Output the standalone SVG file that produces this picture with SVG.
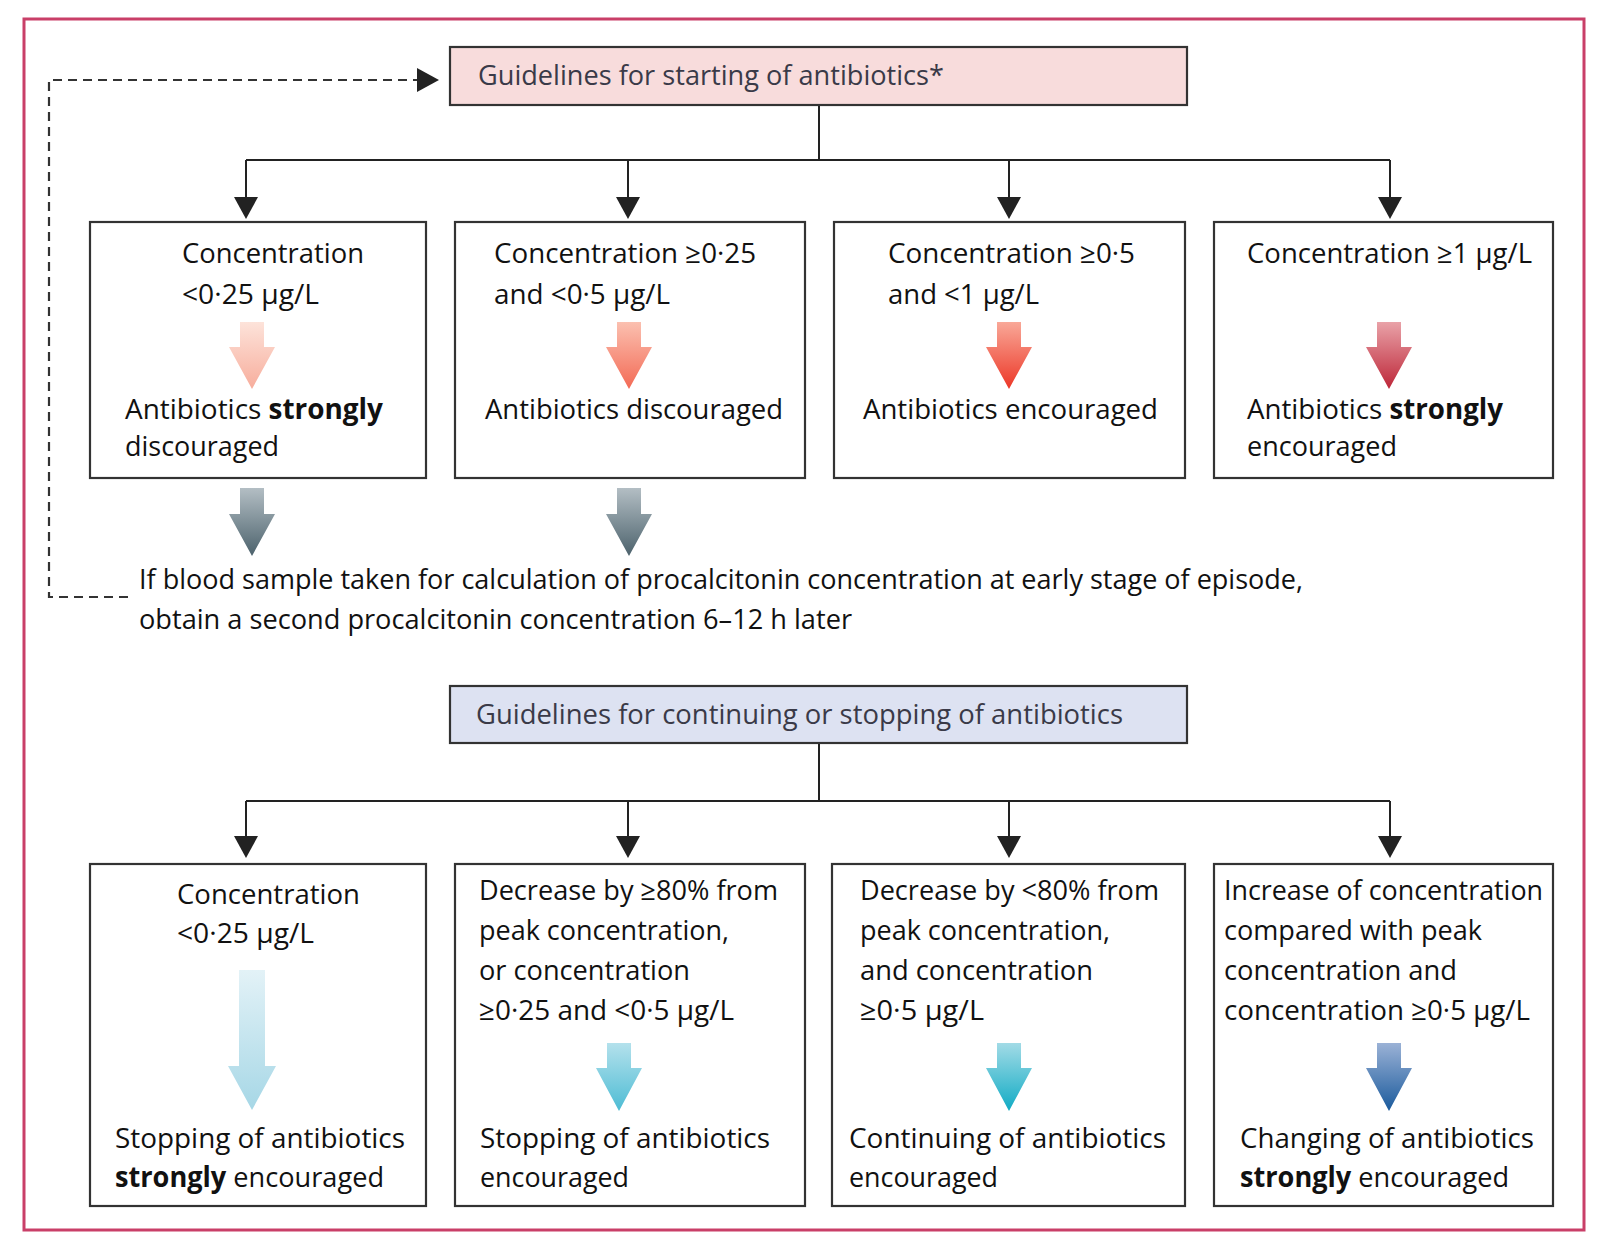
<svg xmlns="http://www.w3.org/2000/svg" width="1600" height="1250" viewBox="0 0 1600 1250">
<defs>
<style>
.t{font-family:"Open Sans","Liberation Sans",Arial,sans-serif;font-size:28px;fill:#111;}
.h{font-family:"Open Sans","Liberation Sans",Arial,sans-serif;font-size:27px;fill:#3a3a48;}
.b{font-weight:700;}
.box{fill:#fff;stroke:#333;stroke-width:2.2;}
.con{fill:none;stroke:#222;stroke-width:2;}
.dash{fill:none;stroke:#333;stroke-width:2.2;stroke-dasharray:9 6;}
</style>
<marker id="ah" viewBox="0 0 22 24" refX="0" refY="12" markerWidth="22" markerHeight="24" markerUnits="userSpaceOnUse" orient="auto">
<path d="M0,0 L22,12 L0,24 Z" fill="#222"/>
</marker>
<linearGradient id="g1" x1="0" y1="0" x2="0" y2="1"><stop offset="0" stop-color="#fde3da"/><stop offset="1" stop-color="#f7ad9c"/></linearGradient>
<linearGradient id="g2" x1="0" y1="0" x2="0" y2="1"><stop offset="0" stop-color="#fbc0b0"/><stop offset="1" stop-color="#f36a55"/></linearGradient>
<linearGradient id="g3" x1="0" y1="0" x2="0" y2="1"><stop offset="0" stop-color="#f9a898"/><stop offset="1" stop-color="#ec3727"/></linearGradient>
<linearGradient id="g4" x1="0" y1="0" x2="0" y2="1"><stop offset="0" stop-color="#e9a2a8"/><stop offset="1" stop-color="#bd2638"/></linearGradient>
<linearGradient id="gg" x1="0" y1="0" x2="0" y2="1"><stop offset="0" stop-color="#b3bec4"/><stop offset="1" stop-color="#4c626c"/></linearGradient>
<linearGradient id="b1" x1="0" y1="0" x2="0" y2="1"><stop offset="0" stop-color="#e3f2f7"/><stop offset="1" stop-color="#a6d7e6"/></linearGradient>
<linearGradient id="b2" x1="0" y1="0" x2="0" y2="1"><stop offset="0" stop-color="#b4e1ec"/><stop offset="1" stop-color="#4dbcd4"/></linearGradient>
<linearGradient id="b3" x1="0" y1="0" x2="0" y2="1"><stop offset="0" stop-color="#a2dbe6"/><stop offset="1" stop-color="#10abc4"/></linearGradient>
<linearGradient id="b4" x1="0" y1="0" x2="0" y2="1"><stop offset="0" stop-color="#9bb2d6"/><stop offset="1" stop-color="#1a5a9c"/></linearGradient>
</defs>
<rect width="1600" height="1250" fill="#fff"/>
<rect x="24" y="19" width="1560" height="1211" fill="none" stroke="#c93f68" stroke-width="3"/>

<g id="connectors">
<path class="dash" d="M128,597 H49 V80 H417" marker-end="url(#ah)"/>
<path class="con" d="M819,105 V160"/>
<path class="con" d="M246,160 H1390"/>
<path class="con" d="M246,160 V197" marker-end="url(#ah)"/>
<path class="con" d="M628,160 V197" marker-end="url(#ah)"/>
<path class="con" d="M1009,160 V197" marker-end="url(#ah)"/>
<path class="con" d="M1390,160 V197" marker-end="url(#ah)"/>
<path class="con" d="M819,743 V801"/>
<path class="con" d="M246,801 H1390"/>
<path class="con" d="M246,801 V836" marker-end="url(#ah)"/>
<path class="con" d="M628,801 V836" marker-end="url(#ah)"/>
<path class="con" d="M1009,801 V836" marker-end="url(#ah)"/>
<path class="con" d="M1390,801 V836" marker-end="url(#ah)"/>
<path d="M240,488 H264 V514 H275 L252,556 L229,514 H240 Z" fill="url(#gg)"/>
<path d="M617,488 H641 V514 H652 L629,556 L606,514 H617 Z" fill="url(#gg)"/>
</g>

<g id="start-header">
<rect x="450" y="47" width="737" height="58" fill="#f8dcdc" stroke="#333" stroke-width="2.2"/>
<text class="h" x="478" y="85" textLength="466" lengthAdjust="spacingAndGlyphs">Guidelines for starting of antibiotics*</text>
</g>

<g id="start-1">
<rect class="box" x="90" y="222" width="336" height="256"/>
<text class="t" x="182" y="263" textLength="182" lengthAdjust="spacingAndGlyphs">Concentration</text>
<text class="t" x="182" y="304" textLength="137" lengthAdjust="spacingAndGlyphs">&lt;0·25 µg/L</text>
<path d="M240,322 H264 V347 H275 L252,389 L229,347 H240 Z" fill="url(#g1)"/>
<text class="t" x="125" y="419" textLength="258" lengthAdjust="spacingAndGlyphs">Antibiotics <tspan class="b">strongly</tspan></text>
<text class="t" x="125" y="456" textLength="154" lengthAdjust="spacingAndGlyphs">discouraged</text>
</g>

<g id="start-2">
<rect class="box" x="455" y="222" width="350" height="256"/>
<text class="t" x="494" y="263" textLength="262" lengthAdjust="spacingAndGlyphs">Concentration ≥0·25</text>
<text class="t" x="494" y="304" textLength="176" lengthAdjust="spacingAndGlyphs">and &lt;0·5 µg/L</text>
<path d="M617,322 H641 V347 H652 L629,389 L606,347 H617 Z" fill="url(#g2)"/>
<text class="t" x="485" y="419" textLength="298" lengthAdjust="spacingAndGlyphs">Antibiotics discouraged</text>
</g>

<g id="start-3">
<rect class="box" x="834" y="222" width="351" height="256"/>
<text class="t" x="888" y="263" textLength="247" lengthAdjust="spacingAndGlyphs">Concentration ≥0·5</text>
<text class="t" x="888" y="304" textLength="151" lengthAdjust="spacingAndGlyphs">and &lt;1 µg/L</text>
<path d="M997,322 H1021 V347 H1032 L1009,389 L986,347 H997 Z" fill="url(#g3)"/>
<text class="t" x="863" y="419" textLength="295" lengthAdjust="spacingAndGlyphs">Antibiotics encouraged</text>
</g>

<g id="start-4">
<rect class="box" x="1214" y="222" width="339" height="256"/>
<text class="t" x="1247" y="263" textLength="285" lengthAdjust="spacingAndGlyphs">Concentration ≥1 µg/L</text>
<path d="M1377,322 H1401 V347 H1412 L1389,389 L1366,347 H1377 Z" fill="url(#g4)"/>
<text class="t" x="1247" y="419" textLength="256" lengthAdjust="spacingAndGlyphs">Antibiotics <tspan class="b">strongly</tspan></text>
<text class="t" x="1247" y="456" textLength="150" lengthAdjust="spacingAndGlyphs">encouraged</text>
</g>

<g id="second-sample-note">
<text class="t" x="139" y="589" textLength="1164" lengthAdjust="spacingAndGlyphs">If blood sample taken for calculation of procalcitonin concentration at early stage of episode,</text>
<text class="t" x="139" y="629" textLength="713" lengthAdjust="spacingAndGlyphs">obtain a second procalcitonin concentration 6–12 h later</text>
</g>

<g id="continue-header">
<rect x="450" y="686" width="737" height="57" fill="#dde2f2" stroke="#333" stroke-width="2.2"/>
<text class="h" x="476" y="724" textLength="647" lengthAdjust="spacingAndGlyphs">Guidelines for continuing or stopping of antibiotics</text>
</g>

<g id="continue-1">
<rect class="box" x="90" y="864" width="336" height="342"/>
<text class="t" x="177" y="904" textLength="183" lengthAdjust="spacingAndGlyphs">Concentration</text>
<text class="t" x="177" y="943" textLength="137" lengthAdjust="spacingAndGlyphs">&lt;0·25 µg/L</text>
<path d="M239,970 H265 V1066 H276 L252,1110 L228,1066 H239 Z" fill="url(#b1)"/>
<text class="t" x="115" y="1148" textLength="290" lengthAdjust="spacingAndGlyphs">Stopping of antibiotics</text>
<text class="t" x="115" y="1187" textLength="269" lengthAdjust="spacingAndGlyphs"><tspan class="b">strongly</tspan> encouraged</text>
</g>

<g id="continue-2">
<rect class="box" x="455" y="864" width="350" height="342"/>
<text class="t" x="479" y="900" textLength="299" lengthAdjust="spacingAndGlyphs">Decrease by ≥80% from</text>
<text class="t" x="479" y="940" textLength="250" lengthAdjust="spacingAndGlyphs">peak concentration,</text>
<text class="t" x="479" y="980" textLength="211" lengthAdjust="spacingAndGlyphs">or concentration</text>
<text class="t" x="479" y="1020" textLength="255" lengthAdjust="spacingAndGlyphs">≥0·25 and &lt;0·5 µg/L</text>
<path d="M607,1043 H631 V1068 H642 L619,1111 L596,1068 H607 Z" fill="url(#b2)"/>
<text class="t" x="480" y="1148" textLength="290" lengthAdjust="spacingAndGlyphs">Stopping of antibiotics</text>
<text class="t" x="480" y="1187" textLength="149" lengthAdjust="spacingAndGlyphs">encouraged</text>
</g>

<g id="continue-3">
<rect class="box" x="832" y="864" width="353" height="342"/>
<text class="t" x="860" y="900" textLength="299" lengthAdjust="spacingAndGlyphs">Decrease by &lt;80% from</text>
<text class="t" x="860" y="940" textLength="250" lengthAdjust="spacingAndGlyphs">peak concentration,</text>
<text class="t" x="860" y="980" textLength="233" lengthAdjust="spacingAndGlyphs">and concentration</text>
<text class="t" x="860" y="1020" textLength="124" lengthAdjust="spacingAndGlyphs">≥0·5 µg/L</text>
<path d="M997,1043 H1021 V1068 H1032 L1009,1111 L986,1068 H997 Z" fill="url(#b3)"/>
<text class="t" x="849" y="1148" textLength="317" lengthAdjust="spacingAndGlyphs">Continuing of antibiotics</text>
<text class="t" x="849" y="1187" textLength="149" lengthAdjust="spacingAndGlyphs">encouraged</text>
</g>

<g id="continue-4">
<rect class="box" x="1214" y="864" width="339" height="342"/>
<text class="t" x="1224" y="900" textLength="319" lengthAdjust="spacingAndGlyphs">Increase of concentration</text>
<text class="t" x="1224" y="940" textLength="258" lengthAdjust="spacingAndGlyphs">compared with peak</text>
<text class="t" x="1224" y="980" textLength="233" lengthAdjust="spacingAndGlyphs">concentration and</text>
<text class="t" x="1224" y="1020" textLength="306" lengthAdjust="spacingAndGlyphs">concentration ≥0·5 µg/L</text>
<path d="M1377,1043 H1401 V1068 H1412 L1389,1111 L1366,1068 H1377 Z" fill="url(#b4)"/>
<text class="t" x="1240" y="1148" textLength="294" lengthAdjust="spacingAndGlyphs">Changing of antibiotics</text>
<text class="t" x="1240" y="1187" textLength="269" lengthAdjust="spacingAndGlyphs"><tspan class="b">strongly</tspan> encouraged</text>
</g>
</svg>
